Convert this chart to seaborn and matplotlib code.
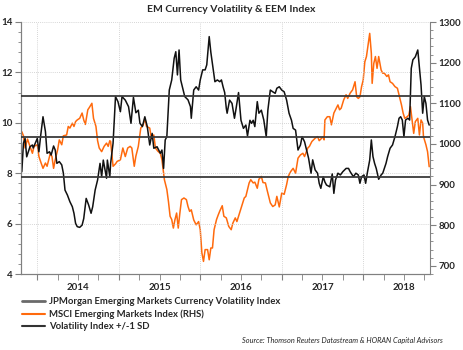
import matplotlib
matplotlib.use("Agg")
import matplotlib.pyplot as plt
import seaborn as sns
import pandas as pd
from matplotlib.lines import Line2D

# ================= data =================
TITLE = "EM Currency Volatility & EEM Index"
SOURCE = "Source: Thomson Reuters Datastream & HORAN Capital Advisors"
LABELS = ["JPMorgan Emerging Markets Currency Volatility Index",
          "MSCI Emerging Markets Index (RHS)",
          "Volatility Index +/-1 SD"]
YEARS = [2014, 2015, 2016, 2017, 2018]

# JPMorgan EM currency volatility index (left axis), x in decimal years
vol_year = [2013.81, 2013.83, 2013.85, 2013.87, 2013.91, 2013.94, 2013.95,
            2014.00, 2014.02, 2014.04, 2014.07, 2014.10, 2014.12, 2014.15, 2014.17, 2014.20, 2014.22,
            2014.24, 2014.27, 2014.30, 2014.32, 2014.34, 2014.37, 2014.40, 2014.43, 2014.45, 2014.47,
            2014.49, 2014.52, 2014.55, 2014.57, 2014.60, 2014.63, 2014.66, 2014.68, 2014.71, 2014.74,
            2014.77, 2014.79, 2014.81, 2014.85, 2014.86, 2014.89, 2014.90, 2014.93, 2014.96, 2014.99,
            2015.02, 2015.04, 2015.08, 2015.12, 2015.15, 2015.18, 2015.21, 2015.24, 2015.26, 2015.29,
            2015.32, 2015.35, 2015.38, 2015.41, 2015.43, 2015.47, 2015.51, 2015.53, 2015.55, 2015.57,
            2015.59, 2015.62, 2015.65, 2015.68, 2015.70, 2015.72, 2015.74, 2015.76, 2015.79, 2015.81,
            2015.85, 2015.88, 2015.89, 2015.92, 2015.95, 2015.98,
            2016.00, 2016.03, 2016.06, 2016.08, 2016.11, 2016.13, 2016.16, 2016.18, 2016.21, 2016.24,
            2016.26, 2016.28, 2016.30, 2016.32, 2016.33, 2016.36, 2016.39, 2016.42, 2016.44, 2016.47,
            2016.50, 2016.53, 2016.56, 2016.58, 2016.61, 2016.63, 2016.65, 2016.67, 2016.70, 2016.72,
            2016.75, 2016.78, 2016.81, 2016.83, 2016.86, 2016.89, 2016.92, 2016.94, 2016.97,
            2017.00, 2017.03, 2017.06, 2017.09, 2017.12, 2017.14, 2017.17, 2017.20, 2017.23, 2017.25,
            2017.28, 2017.31, 2017.33, 2017.36, 2017.38, 2017.41, 2017.44, 2017.46, 2017.48, 2017.51,
            2017.53, 2017.55, 2017.59, 2017.62, 2017.64, 2017.66, 2017.69, 2017.72, 2017.75, 2017.79,
            2017.82, 2017.84, 2017.88, 2017.91, 2017.94, 2017.96, 2017.98,
            2018.01, 2018.03, 2018.05, 2018.08, 2018.10, 2018.12, 2018.14, 2018.16, 2018.19, 2018.22,
            2018.24, 2018.28, 2018.30, 2018.33, 2018.36, 2018.39, 2018.42, 2018.44, 2018.46, 2018.48,
            2018.50, 2018.52, 2018.55, 2018.57, 2018.59, 2018.61, 2018.64, 2018.67, 2018.69, 2018.71,
            2018.73, 2018.75, 2018.77, 2018.79, 2018.81]
vol_value = [8.06, 9.19, 9.38, 8.65, 9.05, 9.12, 9.00,
             9.38, 8.85, 9.45, 10.24, 9.65, 8.79, 8.85, 8.72, 9.08, 8.92,
             8.39, 8.46, 8.33, 8.00, 7.33, 7.13, 6.87, 6.67, 6.41, 6.01,
             5.88, 5.85, 5.94, 6.20, 7.00, 6.74, 6.41, 6.67, 7.33, 7.73,
             8.39, 7.86, 8.52, 7.80, 8.52, 7.86, 8.39, 9.19, 11.04, 10.84,
             10.44, 11.04, 10.90, 10.64, 9.98, 11.01, 10.40, 10.50, 9.98, 9.85,
             10.24, 9.85, 9.12, 9.58, 8.99, 9.05, 8.79, 8.92, 8.19, 9.32,
             9.45, 11.30, 11.70, 12.56, 12.82, 11.90, 12.89, 11.70, 11.30, 11.04,
             10.91, 10.64, 10.18, 11.30, 11.43, 11.30,
             11.70, 12.10, 12.10, 12.30, 13.42, 12.80, 12.10, 11.63, 11.70, 11.63,
             11.70, 11.43, 11.20, 10.57, 10.38, 10.90, 10.77, 10.18, 10.57, 11.20,
             10.10, 9.78, 9.91, 9.48, 10.10, 9.98, 10.10, 9.85, 10.84, 10.38,
             10.50, 10.11, 9.45, 10.50, 11.30, 11.23, 11.17, 11.37, 11.43,
             11.30, 11.23, 10.90, 10.38, 10.10, 9.78, 9.71, 8.92, 9.12, 9.45,
             9.25, 8.85, 8.59, 8.00, 8.53, 8.13, 8.00, 7.60, 7.40, 7.86,
             7.65, 7.53, 7.46, 7.97, 7.20, 7.73, 8.00, 7.93, 8.06, 8.19,
             8.19, 8.06, 7.86, 8.00, 7.93, 7.60, 7.86,
             7.93, 7.60, 8.00, 8.52, 9.32, 8.66, 8.39, 8.19, 7.76, 7.93,
             8.00, 8.39, 8.66, 8.99, 9.12, 9.45, 9.85, 10.18, 10.24, 10.11,
             9.45, 10.11, 10.18, 10.11, 12.16, 12.50, 12.62, 12.89, 12.20, 11.50,
             10.38, 11.04, 10.77, 10.11, 9.91]

# MSCI Emerging Markets index (right axis)
eem_year = [2013.81, 2013.83, 2013.85, 2013.88, 2013.91, 2013.94, 2013.96,
            2014.00, 2014.02, 2014.04, 2014.07, 2014.10, 2014.12, 2014.14, 2014.16, 2014.18, 2014.20,
            2014.22, 2014.25, 2014.27, 2014.30, 2014.32, 2014.36, 2014.38, 2014.40, 2014.43, 2014.45,
            2014.47, 2014.49, 2014.52, 2014.55, 2014.57, 2014.59, 2014.62, 2014.64, 2014.67, 2014.69,
            2014.72, 2014.74, 2014.76, 2014.79, 2014.82, 2014.85, 2014.87, 2014.89, 2014.90, 2014.93,
            2014.96, 2014.98,
            2015.02, 2015.05, 2015.08, 2015.11, 2015.14, 2015.16, 2015.19, 2015.21, 2015.24, 2015.27,
            2015.30, 2015.32, 2015.34, 2015.38, 2015.40, 2015.43, 2015.45, 2015.48, 2015.51, 2015.53,
            2015.54, 2015.56, 2015.59, 2015.61, 2015.63, 2015.65, 2015.67, 2015.69, 2015.71, 2015.73,
            2015.75, 2015.77, 2015.80, 2015.83, 2015.85, 2015.87, 2015.89, 2015.92, 2015.95, 2015.98,
            2016.00, 2016.02, 2016.04, 2016.06, 2016.09, 2016.11, 2016.13, 2016.15, 2016.17, 2016.20,
            2016.22, 2016.24, 2016.27, 2016.29, 2016.32, 2016.35, 2016.38, 2016.40, 2016.43, 2016.45,
            2016.47, 2016.50, 2016.52, 2016.54, 2016.56, 2016.60, 2016.62, 2016.65, 2016.67, 2016.70,
            2016.72, 2016.75, 2016.77, 2016.80, 2016.82, 2016.86, 2016.89, 2016.92, 2016.94, 2016.97,
            2017.00, 2017.03, 2017.06, 2017.08, 2017.11, 2017.14, 2017.17, 2017.20, 2017.23, 2017.26,
            2017.28, 2017.32, 2017.34, 2017.37, 2017.41, 2017.44, 2017.46, 2017.49, 2017.51, 2017.52,
            2017.53, 2017.56, 2017.59, 2017.61, 2017.64, 2017.66, 2017.69, 2017.71, 2017.73, 2017.76,
            2017.79, 2017.81, 2017.84, 2017.87, 2017.90, 2017.92, 2017.94, 2017.96, 2017.98,
            2018.00, 2018.02, 2018.04, 2018.06, 2018.08, 2018.10, 2018.11, 2018.13, 2018.15, 2018.17,
            2018.19, 2018.22, 2018.24, 2018.26, 2018.29, 2018.31, 2018.33, 2018.36, 2018.39, 2018.42,
            2018.44, 2018.47, 2018.49, 2018.51, 2018.54, 2018.56, 2018.58, 2018.60, 2018.62, 2018.64,
            2018.67, 2018.69, 2018.71, 2018.73, 2018.74, 2018.77, 2018.79, 2018.81]
eem_value = [1030, 1020, 990, 1012, 994, 977, 994,
             998, 969, 957, 940, 953, 945, 961, 977, 969, 940,
             961, 986, 1010, 998, 1020, 1022, 1043, 1039, 1051, 1043,
             1055, 1059, 1063, 1076, 1059, 1048, 1084, 1090, 1100, 1063,
             1043, 1008, 990, 981, 994, 1002, 994, 1008, 1006, 945,
             951, 957,
             961, 990, 969, 990, 994, 990, 945, 970, 994, 1039,
             1047, 1063, 1043, 1039, 1014, 1022, 990, 982, 977, 961,
             945, 912, 888, 858, 822, 814, 793, 814, 830, 793,
             830, 863, 867, 863, 846, 834, 838, 813, 801, 809,
             789, 732, 711, 740, 740, 715, 744, 744, 789, 814,
             825, 835, 848, 822, 818, 797, 789, 805, 818, 809,
             822, 842, 855, 867, 871, 904, 912, 904, 906, 891,
             913, 920, 905, 904, 887, 855, 846, 850, 871, 845,
             879, 876, 900, 920, 932, 940, 928, 965, 973, 977,
             969, 990, 994, 1006, 1014, 1018, 1008, 1014, 1018, 1010,
             1059, 1067, 1067, 1047, 1076, 1084, 1096, 1084, 1088, 1108,
             1121, 1112, 1125, 1133, 1153, 1116, 1112, 1116, 1141,
             1157, 1202, 1215, 1243, 1272, 1223, 1149, 1198, 1215, 1186,
             1215, 1182, 1174, 1174, 1166, 1170, 1153, 1149, 1141, 1137,
             1121, 1096, 1076, 1063, 1067, 1071, 1092, 1059, 1026, 1055,
             1063, 1022, 1059, 1051, 1018, 998, 981, 944]

# mean and +/-1 SD of the volatility index
sd_band = [7.85, 9.45, 11.05]

ORANGE = "#FF6A0D"
# =============================================================

sns.set_style("ticks")
plt.rcParams['font.family'] = ['Lato', 'DejaVu Sans']

fig = plt.figure(figsize=(4.63, 3.5), dpi=100)
ax = fig.add_axes([21 / 463, 1 - 274 / 350, (430 - 21) / 463, (274 - 22) / 350])
ax2 = ax.twinx()

vol_df = pd.DataFrame({'year': vol_year, 'value': vol_value})
eem_df = pd.DataFrame({'year': eem_year, 'value': eem_value})

sns.lineplot(data=eem_df, x='year', y='value', ax=ax2, color=ORANGE, lw=1.1)
sns.lineplot(data=vol_df, x='year', y='value', ax=ax, color='#111111', lw=1.1)
for lvl in sd_band:
    ax.axhline(lvl, color='#3a3a3a', lw=1.3, zorder=5)

# black series above the orange one
ax.set_zorder(ax2.get_zorder() + 1)
ax.patch.set_visible(False)

ax.set_xlim(2013.80, 2018.82)
ax.set_ylim(4, 14)
ax2.set_ylim(680, 1300)

ax.set_yticks(range(4, 15, 2))
ax.set_yticks([4 + 0.4 * i for i in range(26)], minor=True)
ax2.set_yticks(range(700, 1301, 100))
ax2.set_yticks([680 + 20 * i for i in range(32)], minor=True)

ax.set_xticks(YEARS, labels=[''] * len(YEARS))
quarters = [y + q for y in range(2013, 2019) for q in (0.25, 0.5, 0.75)
            if 2013.8 < y + q < 2018.82]
ax.set_xticks(quarters, labels=[str(int(q)) if q % 1 == 0.5 else '' for q in quarters], minor=True)

ax.set_xlabel('')
ax.set_ylabel('')
ax2.set_ylabel('')

ax.grid(True, which='major', color='#c8c8c8', ls=(0, (1, 1.5)), lw=0.6)

spine_c = '#808080'
for a in (ax, ax2):
    a.spines['top'].set_visible(False)
    for s in ('left', 'right', 'bottom'):
        a.spines[s].set_color(spine_c)
        a.spines[s].set_linewidth(0.8)
ax.spines['right'].set_visible(False)

ax.tick_params(axis='y', which='major', length=4, color=spine_c, labelsize=7, pad=2)
ax.tick_params(axis='y', which='minor', length=2.5, color=spine_c)
ax2.tick_params(axis='y', which='major', length=4, color=spine_c, labelsize=7, pad=2)
ax2.tick_params(axis='y', which='minor', length=2.5, color=spine_c)
ax.tick_params(axis='x', which='both', length=4, color=spine_c, labelsize=7, pad=2.5)
for lab in ax.get_yticklabels() + ax2.get_yticklabels() + ax.get_xticklabels(minor=True):
    lab.set_fontweight('bold')

fig.text(0.5, 1 - 9 / 350, TITLE, ha='center', va='center', fontsize=7.5, weight='bold')

handles = [Line2D([], [], color='#6a6a6a', lw=2.0),
           Line2D([], [], color=ORANGE, lw=1.5),
           Line2D([], [], color='#333333', lw=1.5)]
fig.legend(handles, LABELS, loc='upper left', bbox_to_anchor=(22 / 463, 1 - 297 / 350),
           frameon=False, prop={'weight': 'bold', 'size': 6.8}, handlelength=2.4,
           handletextpad=0.45, labelspacing=0.35, borderpad=0, borderaxespad=0)

fig.text(443 / 463, 1 - 341 / 350, SOURCE, ha='right', va='center', fontsize=5.3, style='italic')

fig.savefig('out.png', dpi=100)
